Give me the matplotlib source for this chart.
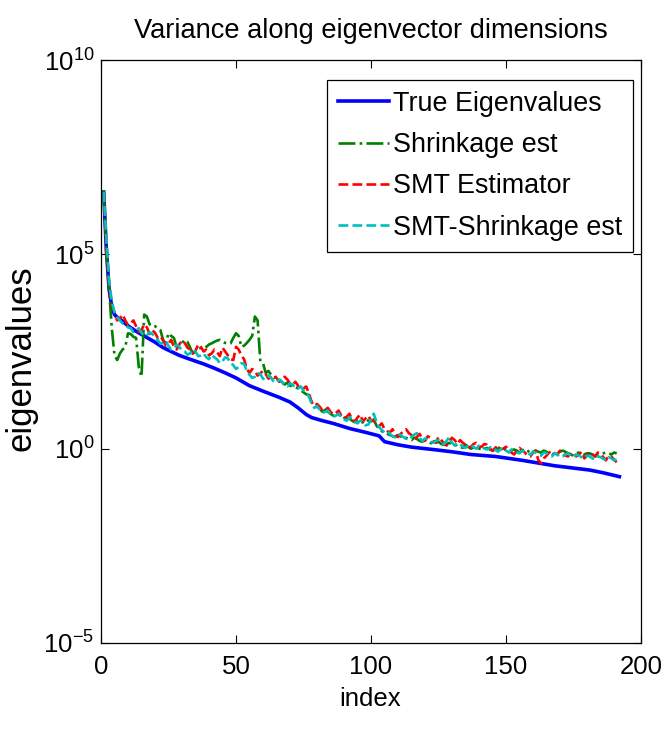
#!/usr/bin/env python3

import matplotlib
matplotlib.use("Agg")
import matplotlib.pyplot as plt
import matplotlib.ticker as tck
import numpy as np

# index axis of the estimates
idx_est = list(range(1, 192))

# true eigenvalues, log10, read at key indices
idx_true = [1, 2, 3, 4, 5, 6, 8, 10, 13, 16, 20, 23, 26, 29, 33, 38, 42, 46, 50, 55, 60,
            66, 70, 73, 76, 78, 82, 86, 92, 98, 103, 105, 110, 115, 124, 130, 137, 146,
            156, 168, 181, 186, 192]
log_true = [6.6, 5.1, 4.1, 3.65, 3.45, 3.38, 3.28, 3.16, 3.02, 2.9, 2.74, 2.6, 2.5, 2.4,
            2.3, 2.18, 2.07, 1.95, 1.82, 1.62, 1.48, 1.32, 1.2, 1.05, 0.88, 0.8, 0.72,
            0.65, 0.52, 0.42, 0.33, 0.18, 0.1, 0.04, -0.03, -0.08, -0.15, -0.2, -0.3,
            -0.44, -0.55, -0.62, -0.72]

# estimates, log10, index 1..191
log_shrink = [6.65, 5.0, 4.1, 3.1, 2.4, 2.28, 2.45, 2.55, 2.62, 2.97,
              2.95, 2.88, 2.85, 2.1, 1.85, 3.45, 3.4, 3.2, 3.14, 3.15,
              3.1, 3.05, 2.8, 2.71, 2.97, 2.9, 2.85, 2.62, 2.65, 2.72,
              2.8, 2.75, 2.6, 2.45, 2.5, 2.55, 2.6, 2.58, 2.62, 2.68,
              2.71, 2.75, 2.78, 2.8, 2.75, 2.72, 2.7, 2.71, 2.85, 2.97,
              2.9, 2.62, 2.65, 2.72, 2.8, 2.9, 3.4, 3.3, 2.25, 2.2,
              1.95, 2.0, 1.9, 1.82, 1.85, 1.78, 1.72, 1.65, 1.7, 1.62,
              1.6, 1.58, 1.55, 1.5, 1.45, 1.4, 1.38, 1.2, 1.12, 1.05,
              1.02, 0.95, 1.0, 0.95, 0.9, 0.85, 0.82, 0.88, 0.85, 0.8,
              0.75, 0.78, 0.72, 0.68, 0.7, 0.65, 0.68, 0.75, 0.72, 0.7,
              0.75, 0.6, 0.5, 0.45, 0.4, 0.38, 0.35, 0.32, 0.3, 0.35,
              0.32, 0.25, 0.28, 0.25, 0.22, 0.28, 0.25, 0.2, 0.18, 0.22,
              0.2, 0.15, 0.12, 0.15, 0.18, 0.12, 0.1, 0.12, 0.15, 0.1,
              0.08, 0.1, 0.05, 0.02, 0.1, 0.05, 0.0, 0.03, 0.05, 0.0,
              -0.02, 0.0, 0.02, -0.02, -0.05, -0.03, 0.0, 0.05, 0.02, -0.05,
              -0.08, -0.05, -0.02, -0.05, -0.1, -0.05, 0.0, -0.05, -0.12, -0.08,
              -0.05, -0.08, -0.1, -0.05, -0.08, -0.12, -0.15, -0.12, -0.1, -0.08,
              -0.05, -0.08, -0.12, -0.15, -0.18, -0.12, -0.1, -0.12, -0.15, -0.12,
              -0.12, -0.15, -0.2, -0.18, -0.15, -0.12, -0.1, -0.12, -0.15, -0.1,
              -0.12]

log_smt = [6.6, 5.2, 4.2, 3.7, 3.5, 3.3, 3.35, 3.45, 3.3, 3.18,
           3.22, 3.3, 3.15, 3.0, 3.05, 3.2, 3.12, 2.95, 3.05, 2.98,
           2.85, 2.9, 2.78, 2.65, 2.7, 2.8, 2.62, 2.55, 2.68, 2.78,
           2.72, 2.6, 2.55, 2.45, 2.52, 2.68, 2.62, 2.5, 2.55, 2.4,
           2.45, 2.55, 2.48, 2.38, 2.6, 2.5, 2.4, 2.3, 2.28, 2.62,
           2.55, 2.4, 2.3, 2.05, 1.95, 2.05, 2.0, 1.88, 1.94, 2.0,
           1.92, 1.8, 1.85, 1.9, 1.82, 1.72, 1.75, 1.85, 1.78, 1.68,
           1.65, 1.72, 1.62, 1.5, 1.55, 1.6, 1.42, 1.2, 1.1, 1.15,
           1.08, 0.98, 1.0, 1.05, 0.95, 0.88, 0.92, 0.98, 0.85, 0.78,
           0.82, 0.9, 0.75, 0.7, 0.8, 0.88, 0.7, 0.78, 0.85, 0.72,
           0.72, 0.62, 0.58, 0.65, 0.5, 0.45, 0.42, 0.5, 0.35, 0.3,
           0.38, 0.45, 0.5, 0.4, 0.35, 0.25, 0.3, 0.38, 0.25, 0.2,
           0.32, 0.28, 0.2, 0.15, 0.3, 0.22, 0.15, 0.08, 0.2, 0.28,
           0.22, 0.12, 0.22, 0.15, 0.1, 0.02, 0.05, 0.12, 0.15, 0.05,
           0.05, 0.12, 0.1, 0.0, -0.05, 0.02, 0.08, -0.02, 0.0, 0.05,
           -0.05, -0.1, -0.15, -0.05, 0.02, -0.05, -0.1, -0.18, -0.2, -0.1,
           -0.05, -0.3, -0.38, -0.25, -0.18, -0.1, -0.05, -0.12, -0.15, -0.05,
           -0.1, -0.18, -0.2, -0.1, -0.12, -0.2, -0.15, -0.08, -0.25, -0.18,
           -0.1, -0.15, -0.2, -0.1, -0.12, -0.22, -0.3, -0.18, -0.2, -0.28,
           -0.35]

log_smt_shrink = [6.6, 5.4, 4.3, 3.8, 3.5, 3.38, 3.3, 3.22, 3.2, 3.12,
                  3.1, 3.0, 3.05, 3.1, 2.98, 2.9, 2.92, 3.0, 2.95, 2.85,
                  2.8, 2.7, 2.72, 2.78, 2.64, 2.55, 2.58, 2.68, 2.62, 2.52,
                  2.5, 2.42, 2.45, 2.55, 2.5, 2.38, 2.4, 2.45, 2.35, 2.3,
                  2.42, 2.35, 2.3, 2.2, 2.25, 2.35, 2.32, 2.2, 2.15, 2.05,
                  2.1, 2.2, 2.18, 2.0, 1.9, 1.82, 1.85, 1.95, 1.92, 1.8,
                  1.78, 1.88, 1.82, 1.72, 1.7, 1.78, 1.72, 1.62, 1.6, 1.68,
                  1.65, 1.55, 1.55, 1.6, 1.5, 1.42, 1.35, 1.15, 1.05, 1.1,
                  1.0, 0.92, 0.95, 0.98, 0.88, 0.82, 0.85, 0.9, 0.8, 0.75,
                  0.72, 0.8, 0.78, 0.7, 0.65, 0.72, 0.7, 0.6, 0.62, 0.75,
                  0.9, 0.7, 0.55, 0.48, 0.42, 0.45, 0.38, 0.32, 0.3, 0.38,
                  0.35, 0.3, 0.25, 0.32, 0.3, 0.36, 0.4, 0.28, 0.2, 0.26,
                  0.25, 0.18, 0.15, 0.2, 0.22, 0.15, 0.12, 0.2, 0.3, 0.15,
                  0.08, 0.15, 0.12, 0.05, 0.02, 0.08, 0.1, 0.04, 0.0, 0.08,
                  0.05, 0.0, -0.02, 0.03, 0.05, -0.02, -0.08, -0.02, 0.02, -0.05,
                  -0.1, -0.02, -0.05, -0.1, -0.12, -0.05, -0.08, -0.12, -0.15, -0.08,
                  -0.1, -0.15, -0.18, -0.1, -0.12, -0.18, -0.2, -0.12, -0.15, -0.22,
                  -0.2, -0.15, -0.12, -0.18, -0.22, -0.15, -0.18, -0.22, -0.25, -0.18,
                  -0.2, -0.25, -0.28, -0.2, -0.22, -0.26, -0.3, -0.22, -0.25, -0.3,
                  -0.28]

plt.rcParams["font.family"] = ["Liberation Sans", "DejaVu Sans"]
plt.rcParams["mathtext.fontset"] = "custom"
plt.rcParams["mathtext.rm"] = "Liberation Sans"
plt.rcParams["mathtext.default"] = "regular"

fig = plt.figure(figsize=(6.65, 7.29), dpi=100)
ax = fig.add_axes([101 / 665, 1 - 643 / 729, 540 / 665, 583 / 729])

ax.plot(idx_true, 10 ** np.array(log_true), color="#0000ff", linewidth=2.6, label="True Eigenvalues")
ax.plot(idx_est, 10 ** np.array(log_shrink), color="#008000", linewidth=1.9, linestyle="-.", label="Shrinkage est")
ax.plot(idx_est, 10 ** np.array(log_smt), color="#ff0000", linewidth=1.9, linestyle="--", label="SMT Estimator")
ax.plot(idx_est, 10 ** np.array(log_smt_shrink), color="#00bfbf", linewidth=1.9, linestyle="--", label="SMT-Shrinkage est")

ax.set_yscale("log")
ax.set_xlim(0, 200)
ax.set_ylim(1e-5, 1e10)
ax.set_xticks([0, 50, 100, 150, 200])
ax.set_yticks([1e-5, 1e0, 1e5, 1e10])
ax.yaxis.set_minor_locator(tck.NullLocator())
ax.yaxis.set_major_formatter(tck.LogFormatterSciNotation())
ax.tick_params(direction="in", top=True, right=True, length=6, width=0.8, labelsize=18.6)
ax.tick_params(axis="x", pad=9)
ax.tick_params(axis="y", pad=5)
for s in ax.spines.values():
    s.set_linewidth(0.9)

ax.set_xlabel("index", fontsize=18.5)
ax.xaxis.set_label_coords(0.498, -0.075)
ax.set_ylabel("eigenvalues", fontsize=25)
ax.yaxis.set_label_coords(-0.117, 0.489)
ax.text(0.5, (643 - 38) / 583, "Variance along eigenvector dimensions", transform=ax.transAxes,
        ha="center", va="baseline", fontsize=19.6)

leg = ax.legend(loc="upper right", bbox_to_anchor=((633 - 101) / 540, (643 - 80) / 583),
                borderaxespad=0, fontsize=19.4, fancybox=False, framealpha=1,
                edgecolor="black", handlelength=1.9, handletextpad=0.15,
                labelspacing=0.57, borderpad=0.4)
leg.get_frame().set_linewidth(0.9)

plt.savefig("out.png", dpi=100)
